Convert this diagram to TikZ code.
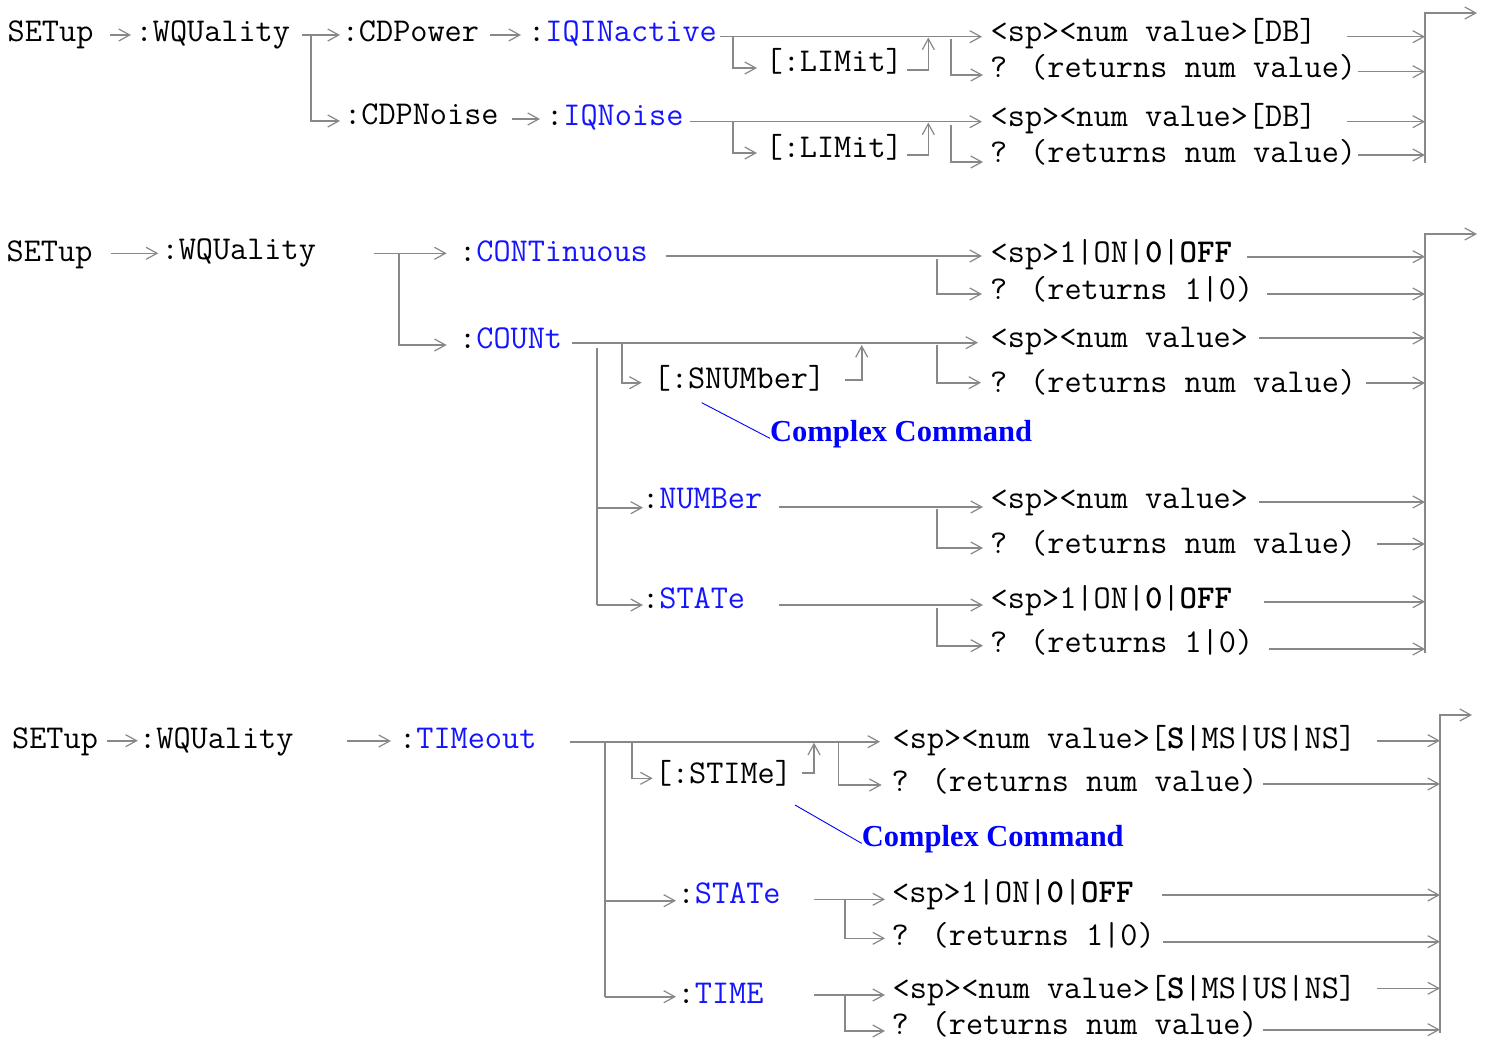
\documentclass[tikz,border=0pt]{standalone}
\usepackage{fontspec}
\usetikzlibrary{arrows.meta}
\newfontfamily\ccfam{Liberation Serif}
\definecolor{lgray}{RGB}{136,136,136}
\definecolor{cmdblue}{RGB}{20,20,255}
\definecolor{ccblue}{RGB}{0,0,255}
\tikzset{
  ln/.style={draw=lgray, line width=1.6pt},
  arr/.style={ln, -{Straight Barb[length=11pt,width=12pt,line width=1.2pt]}},
  txt/.style={font=\ttfamily\fontsize{33.3}{35}\selectfont, anchor=base west, inner sep=0pt, text=black},
  cc/.style={font=\ccfam\bfseries\fontsize{30.5}{32}\selectfont, anchor=base west, inner sep=0pt, text=ccblue},
  ccline/.style={draw=ccblue, line width=0.9pt},
}
\newcommand{\bl}[1]{\textcolor{cmdblue}{#1}}
\begin{document}
\begin{tikzpicture}[x=1pt,y=-1pt]
\useasboundingbox (0,0) rectangle (1487,1043);
% ---------------- Section 1 ----------------
\node[txt] (s1) at (7.5,42) {SETup};
\node[txt] (w1) at (135.5,42) {:WQUality};
\node[txt] (cdp) at (341.6,42) {:CDPower};
\node[txt] (iqi) at (528,42) {:\bl{IQINactive}};
\node[txt] (lim1) at (765.4,72) {[:LIMit]};
\node[txt] (v1a) at (990.5,42) {<sp><num value>[DB]};
\node[txt] (q1a) at (990,78) {? (returns num value)};
\node[txt] (cdn) at (344,125) {:CDPNoise};
\node[txt] (iqn) at (546,126) {:\bl{IQNoise}};
\node[txt] (lim2) at (765.4,158) {[:LIMit]};
\node[txt] (v1b) at (990.5,127) {<sp><num value>[DB]};
\node[txt] (q1b) at (990,163) {? (returns num value)};

\draw[arr] (110,35) -- (131,35);
\draw[arr] (301.7,35) -- (340,35);
\draw[arr] (310.7,35) -- (310.7,121) -- (340,121);
\draw[arr] (490,35) -- (521,35);
\draw[arr] (720,36.7) -- (982,36.7);
\draw[arr] (733,36.7) -- (733,68) -- (757,68);
\draw[arr] (907,70) -- (928.3,70) -- (928.3,37.5);
\draw[arr] (951,39) -- (951,75) -- (983,75);
\draw[arr] (512,119) -- (540,119);
\draw[arr] (690,121.7) -- (982,121.7);
\draw[arr] (733,121.7) -- (733,153) -- (757,153);
\draw[arr] (907,155) -- (928.3,155) -- (928.3,122.5);
\draw[arr] (951,125) -- (951,162) -- (983,162);
\draw[arr] (1347,36.7) -- (1425,36.7);
\draw[arr] (1358,71.7) -- (1425,71.7);
\draw[arr] (1347,121.7) -- (1425,121.7);
\draw[arr] (1358,155) -- (1425,155);
\draw[arr] (1425,163) -- (1425,13) -- (1477,13);

% ---------------- Section 2 ----------------
\node[txt] (s2) at (6.5,261.7) {SETup};
\node[txt] (w2) at (161.4,259) {:WQUality};
\node[txt] (cont) at (459,261.7) {:\bl{CONTinuous}};
\node[txt] (count) at (459,348) {:\bl{COUNt}};
\node[txt] (v2a) at (990.5,262) {<sp>1|ON|\textbf{0}|\textbf{OFF}};
\node[txt] (q2a) at (990,299.5) {? (returns 1|0)};
\node[txt] (snum) at (653.5,388) {[:SNUMber]};
\node[txt] (v2b) at (990.5,347) {<sp><num value>};
\node[txt] (q2b) at (990,392) {? (returns num value)};
\node[cc] (cc1) at (770,441.7) {Complex Command};
\node[txt] (numb) at (642,508) {:\bl{NUMBer}};
\node[txt] (v2c) at (990.5,508) {<sp><num value>};
\node[txt] (q2c) at (990,553) {? (returns num value)};
\node[txt] (st2) at (642,608.5) {:\bl{STATe}};
\node[txt] (v2d) at (990.5,608) {<sp>1|ON|\textbf{0}|\textbf{OFF}};
\node[txt] (q2d) at (990,652) {? (returns 1|0)};

\draw[arr] (110.6,253.3) -- (158.3,253.3);
\draw[arr] (373.8,253.3) -- (446.7,253.3);
\draw[arr] (399,253.3) -- (399,345) -- (446.7,345);
\draw[arr] (665.6,256) -- (982,256);
\draw[arr] (936.7,259) -- (936.7,294) -- (982,294);
\draw[arr] (572,342.7) -- (978,342.7);
\draw[arr] (621.7,342.7) -- (621.7,382.7) -- (641.7,382.7);
\draw[arr] (845,380) -- (861.7,380) -- (861.7,345);
\draw[arr] (936.7,345) -- (936.7,382.7) -- (981,382.7);
\draw[ccline] (701.7,402.7) -- ([yshift=-4pt]cc1.west);
\draw[ln] (596.7,348) -- (596.7,605);
\draw[arr] (596.7,507.7) -- (643,507.7);
\draw[arr] (596.7,605) -- (643,605);
\draw[arr] (779,507) -- (983,507);
\draw[arr] (936.7,509) -- (936.7,548) -- (983,548);
\draw[arr] (779,605) -- (983,605);
\draw[arr] (936.7,607.7) -- (936.7,645.7) -- (983,645.7);
\draw[arr] (1247,256.7) -- (1425,256.7);
\draw[arr] (1267,294) -- (1425,294);
\draw[arr] (1259,338) -- (1425,338);
\draw[arr] (1366,383) -- (1425,383);
\draw[arr] (1259,502) -- (1425,502);
\draw[arr] (1377,544) -- (1425,544);
\draw[arr] (1264,601.7) -- (1425,601.7);
\draw[arr] (1269,649) -- (1425,649);
\draw[arr] (1425,653) -- (1425,234) -- (1477,234);

% ---------------- Section 3 ----------------
\node[txt] (s3) at (12,748) {SETup};
\node[txt] (w3) at (139,748) {:WQUality};
\node[txt] (tmo) at (399,748) {:\bl{TIMeout}};
\node[txt] (stime) at (654.6,783) {[:STIMe]};
\node[txt] (v3a) at (892.5,748) {<sp><num value>[\textbf{S}|MS|US|NS]};
\node[txt] (q3a) at (891.5,791) {? (returns num value)};
\node[cc] (cc2) at (861.7,846.7) {Complex Command};
\node[txt] (st3) at (677.5,903) {:\bl{STATe}};
\node[txt] (v3b) at (892,902) {<sp>1|ON|\textbf{0}|\textbf{OFF}};
\node[txt] (q3b) at (891.5,945) {? (returns 1|0)};
\node[txt] (time) at (677.5,1003) {:\bl{TIME}};
\node[txt] (v3c) at (892.5,998) {<sp><num value>[\textbf{S}|MS|US|NS]};
\node[txt] (q3c) at (891.5,1034.5) {? (returns num value)};

\draw[arr] (107,740.7) -- (137.8,740.7);
\draw[arr] (347,741) -- (391,741);
\draw[arr] (570,741.7) -- (880,741.7);
\draw[arr] (631.7,741.7) -- (631.7,778.3) -- (652.7,778.3);
\draw[arr] (801.7,772.7) -- (814,772.7) -- (814,742.7);
\draw[arr] (838.3,741.7) -- (838.3,785) -- (881.7,785);
\draw[ccline] (795,805) -- ([yshift=-4pt]cc2.west);
\draw[ln] (605,741.7) -- (605,996.7);
\draw[arr] (605,900.7) -- (676,900.7);
\draw[arr] (605,996.7) -- (676,996.7);
\draw[arr] (814,899.3) -- (885,899.3);
\draw[arr] (845,899.3) -- (845,938.3) -- (885,938.3);
\draw[arr] (814,995) -- (885,995);
\draw[arr] (845,995) -- (845,1031) -- (885,1031);
\draw[arr] (1376.7,740.7) -- (1440,740.7);
\draw[arr] (1263,784) -- (1440,784);
\draw[arr] (1161.7,895) -- (1440,895);
\draw[arr] (1163.3,941.7) -- (1440,941.7);
\draw[arr] (1376.7,988.3) -- (1440,988.3);
\draw[arr] (1263,1029.7) -- (1440,1029.7);
\draw[arr] (1440,1033) -- (1440,715) -- (1472,715);
\end{tikzpicture}
\end{document}
